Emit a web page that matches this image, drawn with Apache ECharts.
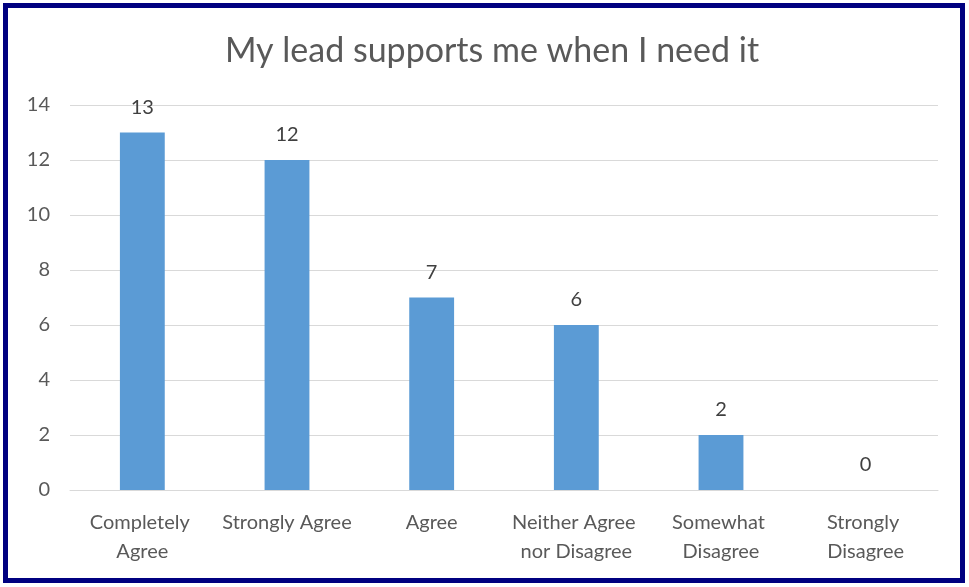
<!DOCTYPE html>
<html>
<head>
<meta charset="utf-8">
<script src="https://cdn.jsdelivr.net/npm/echarts@6/dist/echarts.min.js"></script>
<style>
html,body{margin:0;padding:0;background:#fff;}
#frame{position:absolute;left:3px;top:3px;width:952px;height:570px;border:5px solid #000080;}
#c{position:absolute;left:0;top:0;width:969px;height:587px;}
</style>
</head>
<body>
<div id="frame"></div>
<div id="c"></div>
<script>
const titleText = "My lead supports me when I need it";
const categories = ["Completely Agree", "Strongly Agree", "Agree", "Neither Agree nor Disagree", "Somewhat Disagree", "Strongly Disagree"];
const values = [13, 12, 7, 6, 2, 0];
const yTicks = {min: 0, max: 14, interval: 2};

const chart = echarts.init(document.getElementById('c'), null, {renderer: 'canvas'});
const font = "Lato, 'Open Sans', sans-serif";
chart.setOption({
  backgroundColor: 'transparent',
  animation: false,
  title: {
    text: titleText,
    left: 487,
    textAlign: 'center',
    top: 29,
    textStyle: {fontFamily: font, fontSize: 34, fontWeight: 'normal', color: '#595959'}
  },
  grid: {left: 70, right: 31, top: 105, bottom: 97, containLabel: false},
  xAxis: {
    type: 'category',
    data: categories,
    axisLine: {lineStyle: {color: '#d9d9d9', width: 1}},
    axisTick: {show: false},
    axisLabel: {
      interval: 0,
      color: '#595959',
      fontFamily: font,
      fontSize: 20,
      lineHeight: 29,
      margin: 18,
      width: 142,
      overflow: 'break'
    }
  },
  yAxis: {
    type: 'value',
    min: yTicks.min, max: yTicks.max, interval: yTicks.interval,
    axisLine: {show: false},
    axisTick: {show: false},
    splitLine: {lineStyle: {color: '#d9d9d9', width: 1}},
    axisLabel: {color: '#595959', fontFamily: font, fontSize: 20, margin: 20}
  },
  series: [{
    type: 'bar',
    data: values,
    barWidth: '31%',
    itemStyle: {color: '#5b9bd5'},
    label: {show: true, position: 'top', distance: 15, color: '#404040', fontFamily: font, fontSize: 20}
  }]
});
</script>
</body>
</html>
